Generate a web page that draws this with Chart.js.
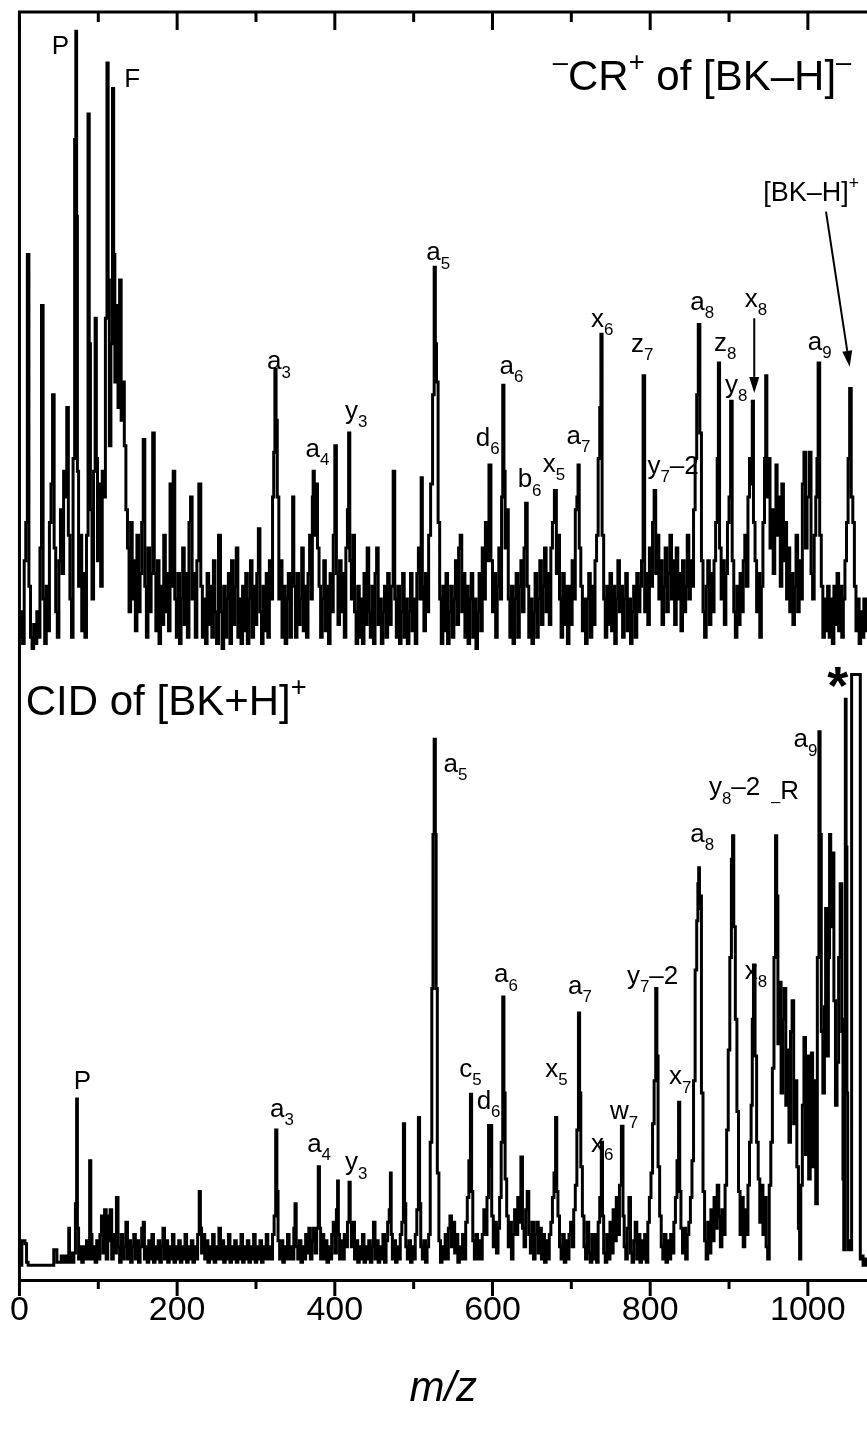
<!DOCTYPE html>
<html>
<head>
<meta charset="utf-8">
<script src="https://cdn.jsdelivr.net/npm/chart.js@4.4.0/dist/chart.umd.min.js"></script>
<style>
  html, body { margin: 0; background: #fff; }
</style>
</head>
<body>
<canvas id="spec" width="867" height="1446"></canvas>
<script>
// ---- data: [m/z, relative intensity %] ----
const topSpectrum = [
  [0,2],[3,6],[5,1],[7,14],[9,20],[11,62],[13,10],[15,2],[17,0],[19,4],[21,1],[23,6],[25,2],[27,16],[29,54],[31,8],[33,1],[35,10],[37,3],[39,20],
  [41,26],[43,40],[45,16],[47,6],[49,2],[51,14],[53,22],[55,12],[57,28],[59,24],[61,38],[63,18],[65,8],[67,2],[69,30],[71,80],[72,97],[73,68],[74,28],[76,10],
  [78,18],[80,3],[82,12],[84,2],[86,18],[88,84],[89,48],[91,22],[93,8],[95,28],[97,52],[98,30],[100,14],[102,26],[104,10],[106,28],[108,24],[110,52],[112,92],[113,58],
  [115,32],[117,48],[119,88],[120,62],[122,42],[124,54],[126,38],[128,58],[130,36],[132,42],[134,32],[136,22],[138,16],[140,6],[142,20],[144,8],[146,14],[148,3],[150,18],[152,6],
  [154,12],[156,20],[158,33],[160,10],[162,2],[164,16],[166,6],[168,12],[170,34],[172,12],[174,3],[176,14],[178,1],[180,10],[182,4],[184,18],[186,6],[188,12],[190,3],[192,26],
  [194,10],[196,28],[198,8],[200,2],[202,12],[204,1],[206,8],[208,16],[210,4],[212,12],[214,2],[216,20],[218,24],[220,8],[222,12],[224,2],[226,14],[229,26],[231,10],[233,2],
  [235,8],[237,1],[239,12],[241,4],[243,10],[245,2],[247,14],[249,6],[251,1],[254,18],[256,6],[258,0],[260,10],[262,2],[264,8],[266,12],[268,1],[270,14],[272,4],[274,10],
  [276,16],[278,2],[280,8],[282,1],[284,10],[286,3],[288,12],[290,1],[292,8],[294,14],[296,2],[298,10],[300,4],[302,12],[304,19],[306,6],[308,1],[310,10],[312,3],[314,12],
  [316,2],[318,14],[320,8],[322,24],[323,31],[325,44],[326,36],[328,24],[330,8],[332,14],[334,2],[336,10],[338,1],[340,8],[342,12],[344,2],[346,10],[347,24],[349,10],[351,2],
  [353,12],[355,4],[357,8],[359,16],[361,3],[363,10],[365,2],[367,12],[369,18],[371,8],[372,24],[373,28],[375,18],[377,26],[379,16],[381,10],[383,2],[385,8],[387,14],[389,3],
  [391,10],[393,1],[395,12],[397,6],[399,18],[401,32],[403,12],[405,4],[407,14],[409,6],[411,12],[413,2],[415,16],[417,22],[418,34],[420,14],[422,8],[424,18],[426,6],[428,1],
  [430,10],[432,2],[434,8],[436,1],[438,12],[440,4],[442,16],[444,6],[446,2],[448,10],[450,1],[452,12],[454,16],[456,4],[458,8],[460,1],[462,6],[464,10],[466,2],[468,12],
  [470,4],[473,10],[475,28],[477,8],[479,2],[481,10],[483,1],[485,6],[487,12],[489,2],[491,8],[493,1],[495,6],[497,12],[499,3],[501,8],[503,1],[505,12],[507,16],[509,8],
  [510,27],[512,10],[514,3],[516,12],[518,6],[520,18],[523,26],[525,40],[527,60],[528,48],[530,42],[532,20],[534,8],[536,1],[538,10],[540,3],[542,12],[544,1],[546,6],[548,10],
  [550,2],[552,8],[554,14],[556,4],[558,16],[560,18],[562,6],[564,12],[566,2],[568,10],[570,1],[572,8],[574,12],[576,2],[578,8],[580,0],[582,6],[584,12],[586,3],[588,16],
  [590,8],[592,20],[594,14],[597,29],[599,14],[601,6],[603,12],[605,2],[607,10],[609,16],[611,8],[612,24],[614,41.5],[615,28],[617,16],[619,22],[621,8],[623,2],[625,10],[627,1],
  [629,8],[631,12],[633,2],[635,10],[637,14],[639,6],[641,16],[643,23],[645,10],[647,2],[649,8],[651,1],[653,6],[655,12],[657,2],[659,8],[661,14],[663,4],[665,10],[667,16],
  [669,6],[671,12],[673,4],[675,16],[677,20],[680,25],[682,12],[684,18],[686,8],[688,2],[690,12],[692,4],[694,10],[696,1],[698,10],[700,4],[702,14],[704,8],[706,22],[708,24],
  [709,29],[711,16],[713,10],[715,3],[717,8],[719,1],[721,8],[723,12],[725,2],[727,10],[729,4],[731,14],[733,18],[735,30],[737,38],[738,49.5],[740,18],[742,8],[744,2],[746,10],
  [748,4],[750,12],[752,3],[754,10],[756,1],[758,8],[760,14],[762,6],[764,10],[766,2],[768,8],[770,12],[772,3],[774,8],[776,1],[778,6],[780,10],[782,2],[784,12],[786,6],
  [788,10],[790,14],[792,43],[794,6],[796,12],[798,4],[800,16],[802,10],[804,20],[806,25],[808,12],[810,18],[812,8],[814,14],[816,4],[818,10],[820,16],[822,6],[824,12],[826,18],
  [828,8],[830,14],[832,4],[834,16],[836,8],[838,12],[840,3],[842,14],[844,6],[846,10],[848,18],[850,8],[852,14],[854,10],[856,22],[858,30],[860,40],[862,51],[864,34],[866,14],
  [868,6],[870,2],[872,10],[874,14],[876,4],[878,12],[880,6],[882,14],[884,20],[886,30],[887,45],[889,16],[891,8],[893,14],[895,4],[897,12],[899,20],[901,24],[903,39],[905,14],
  [907,6],[909,2],[911,10],[913,4],[915,12],[917,6],[919,14],[921,18],[923,10],[925,24],[927,30],[929,26],[930,39],[932,20],[934,14],[936,6],[938,12],[940,2],[942,10],[944,20],
  [946,30],[947,43],[949,24],[951,30],[953,16],[955,22],[957,12],[959,18],[960,29],[962,18],[964,24],[966,10],[968,26],[970,14],[972,20],[974,8],[976,16],[978,6],[980,12],[982,4],
  [984,10],[986,18],[988,6],[990,14],[992,8],[994,26],[996,31],[998,16],[1000,24],[1003,31],[1005,12],[1007,8],[1009,18],[1011,24],[1012,30],[1014,45],[1016,18],[1018,10],[1020,2],[1022,8],
  [1024,3],[1026,10],[1028,2],[1030,8],[1032,1],[1034,10],[1036,4],[1038,12],[1040,3],[1042,10],[1044,2],[1046,8],[1048,14],[1050,20],[1052,30],[1054,41],[1056,24],[1058,20],[1060,10],[1062,3],
  [1064,8],[1066,1],[1068,6],[1070,2],[1072,8],[1075,3]
];

const bottomSpectrum = [
  [0,0],[2,0],[4,4],[6,4],[8,3.5],[10,0.5],[12,0],[20,0],[30,0],[43,0],[44,2.5],[47,2.5],[48,0.5],[52,0.5],[54,1.5],[56,0.5],[58,1.5],[60,0.5],[62,1.5],[63,6],
  [64,0.5],[66,2],[68,0.5],[70,2],[72,10],[73,27],[74,6],[76,1],[78,3],[80,0.5],[82,3],[84,1],[86,4],[88,1],[90,17],[91,5],[93,1],[95,3],[97,0.5],[99,4],
  [101,1],[103,5],[105,8],[107,2],[109,9],[111,1],[113,8],[114,4],[116,9],[118,1],[120,5],[122,2],[124,11],[126,3],[128,0.5],[130,5],[132,1],[134,3],[136,7],[138,1],
  [140,4],[142,0.5],[144,3],[146,5],[148,1],[150,4],[152,0.5],[154,3],[156,6],[158,7],[159,1],[161,3],[163,0.5],[165,4],[167,1],[169,5],[171,0.5],[173,3],[175,1],[177,4],
  [179,0.5],[181,3],[183,6],[185,1],[187,4],[189,0.5],[191,3],[193,1],[195,5],[197,0.5],[199,3],[201,1],[203,4],[205,0.5],[207,3],[209,1],[211,5],[213,0.5],[215,3],[217,1],
  [219,4],[221,0.5],[223,3],[225,1],[227,5],[229,12],[230,6],[232,2],[234,5],[236,1],[238,4],[240,0.5],[242,3],[244,1],[246,5],[248,0.5],[250,3],[252,1],[254,6],[256,1],
  [258,4],[260,0.5],[262,3],[264,1],[266,5],[268,0.5],[270,3],[272,1],[274,4],[276,0.5],[278,3],[280,1],[282,5],[284,0.5],[286,3],[288,1],[290,4],[292,0.5],[294,3],[296,1],
  [298,5],[300,0.5],[302,3],[304,1],[306,4],[308,0.5],[310,3],[312,1],[314,5],[316,1],[318,3],[320,1],[322,5],[324,8],[326,22],[327,12],[329,4],[331,1],[333,4],[335,0.5],
  [337,3],[339,1],[341,5],[343,1],[345,3],[347,1],[349,6],[350,10],[352,3],[354,1],[356,4],[358,0.5],[360,3],[362,1],[364,5],[366,2],[368,6],[370,1],[372,4],[374,6],
  [376,2],[378,6],[380,16],[381,6],[383,1],[385,5],[387,1],[389,4],[391,0.5],[393,3],[395,1],[397,5],[399,7],[401,2],[403,9],[404,13.7],[405,5],[407,1],[409,4],[411,1],
  [413,5],[415,3],[417,7],[419,13.5],[420,7],[422,3],[424,7],[426,1],[428,4],[430,0.5],[432,3],[434,1],[436,5],[438,0.5],[440,3],[442,1],[444,4],[446,0.5],[448,3],[450,7],
  [452,1],[454,4],[456,0.5],[458,3],[460,1],[462,5],[464,0.5],[466,4],[468,7],[470,9],[471,15],[472,5],[474,1],[476,4],[478,0.5],[480,3],[482,1],[484,5],[486,7],[488,23],
  [489,10],[491,3],[493,1],[495,4],[497,0.5],[499,3],[501,1],[503,5],[505,9],[507,24],[508,10],[510,3],[512,1],[514,4],[516,0.5],[518,3],[520,5],[522,20],[524,45],[525,70],
  [527,85.5],[528,70],[529,45],[531,15],[533,4],[535,0.5],[537,3],[539,1],[541,5],[543,1],[545,6],[547,8],[549,3],[551,7],[553,2],[555,5],[557,0.5],[559,3],[561,1],[563,5],
  [565,1],[567,7],[569,11],[571,17],[573,27.8],[574,12],[576,4],[578,1],[580,5],[582,1],[584,4],[586,1],[588,5],[590,9],[592,5],[594,11],[596,22.7],[597,16],[598,22.7],[600,8],
  [602,3],[604,7],[606,2],[608,6],[610,11],[612,20],[614,43.6],[615,28],[617,14],[619,8],[621,3],[623,7],[625,1],[627,5],[629,9],[631,5],[633,11],[635,7],[637,17.6],[639,6],
  [641,3],[643,9],[645,12],[647,5],[649,2],[651,7],[653,1],[655,5],[657,7],[659,2],[661,6],[663,1],[665,5],[667,0.5],[669,4],[671,1],[673,5],[675,7],[677,11],[679,15],
  [681,24],[682,12],[684,8],[686,3],[688,1],[690,5],[692,0.5],[694,4],[696,1],[698,5],[700,7],[702,3],[704,9],[706,13],[708,22],[710,41],[711,28],[713,16],[715,8],[717,3],
  [719,1],[721,7],[723,2],[725,0.5],[727,5],[729,1],[731,5],[733,0.5],[735,7],[737,11],[739,20],[740,8],[742,2],[744,0.5],[746,5],[748,1],[750,7],[752,2],[754,9],[756,4],
  [758,11],[760,5],[762,13],[765,22.6],[766,8],[768,3],[770,1],[772,6],[774,11],[776,2],[778,0.5],[780,4],[782,7],[784,1],[786,5],[788,0.5],[790,4],[792,1],[794,5],[796,0.5],
  [798,7],[800,11],[802,15],[804,23],[806,30],[808,45],[809,34],[811,16],[813,8],[815,3],[817,1],[819,5],[821,0.5],[823,4],[825,1],[827,5],[829,2],[831,7],[833,11],[835,17],
  [837,26.5],[838,12],[840,6],[842,2],[844,6],[846,1],[848,5],[850,7],[852,11],[854,17],[856,30],[858,48],[860,56],[861,62],[862,64.6],[863,58],[864,60],[866,28],[868,12],[870,4],
  [872,1],[874,7],[876,2],[878,9],[880,4],[882,11],[884,6],[886,13],[888,8],[890,3],[892,9],[894,5],[896,13],[898,22],[900,35],[902,50],[904,66],[905,69.8],[907,55],[909,40],
  [911,25],[913,12],[915,5],[917,11],[919,3],[921,9],[923,5],[925,13],[927,20],[929,26],[930,40],[932,48.8],[934,34],[936,20],[938,14],[940,7],[942,13],[944,5],[946,11],[948,3],
  [950,1],[952,13],[954,20],[956,32],[958,50],[960,69.8],[961,60],[963,36],[965,46],[967,28],[969,40],[971,45],[973,26],[975,35],[977,20],[979,38],[981,43],[983,23],[985,30],[987,16],
  [989,6],[990,1],[992,13],[994,26],[996,37],[998,18],[1000,34],[1002,14],[1004,28],[1005,34.5],[1007,16],[1009,30],[1011,10],[1013,50],[1015,86.7],[1016,70],[1018,38],[1020,28],[1022,42],[1023,58],
  [1025,34],[1027,50],[1028,70],[1030,55],[1032,67],[1034,43],[1036,26],[1038,33],[1040,50],[1042,62],[1044,38],[1045,14],[1046,2.5],[1047,40],[1048,92],[1049,68],[1050,28],[1051,2.5],[1052,4],[1054,2.5],
  [1055,2.5],[1056,96],[1066,96],[1067,1],[1069,1.5],[1071,0],[1073,1],[1075,0]
];

const tickValues = [0, 100, 200, 300, 400, 500, 600, 700, 800, 900, 1000];

// peak labels: [m/z centre, intensity at baseline, letter, subscript, suffix]
const topLabels = [
  [52, 93.4, 'P'], [143, 88.2, 'F'],
  [329, 44.0, 'a', '3'], [378, 30.3, 'a', '4'], [427, 36.2, 'y', '3'], [531, 61.1, 'a', '5'],
  [594, 32.0, 'd', '6'], [624, 43.3, 'a', '6'], [647, 25.5, 'b', '6'], [678, 27.9, 'x', '5'],
  [709, 32.3, 'a', '7'], [739, 50.6, 'x', '6'], [790, 46.7, 'z', '7'], [829, 27.6, 'y', '7', '–2'],
  [866, 53.3, 'a', '8'], [895, 46.9, 'z', '8'], [909, 40.3, 'y', '8'], [934, 53.8, 'x', '8'],
  [1015, 47.0, 'a', '9']
];
const bottomLabels = [
  [80, 28.6, 'P'], [333, 24.1, 'a', '3'], [380, 18.4, 'a', '4'], [427, 15.4, 'y', '3'],
  [553, 80.2, 'a', '5'], [572, 30.6, 'c', '5'], [595, 25.4, 'd', '6'], [617, 46.0, 'a', '6'],
  [681, 30.6, 'x', '5'], [711, 44.1, 'a', '7'], [739, 18.4, 'x', '6'], [767, 23.7, 'w', '7'],
  [803, 45.7, 'y', '7', '–2'], [838, 29.4, 'x', '7'], [866, 68.8, 'a', '8'], [907, 76.4, 'y', '8', '–2'],
  [971, 75.8, '', '–', 'R'], [934, 46.5, 'x', '8'], [997, 84.2, 'a', '9']
];
// arrows: [m/z from, int from, m/z to, int to]
const topArrows = [[932, 52.0, 932, 40.3], [1023, 68.7, 1053, 44.4]];

const FONT = '"Liberation Sans", Arial, Helvetica, sans-serif';

function drawRich(ctx, segs, x, y, fs, align) {
  const parts = segs.map(([t, k]) => {
    const size = k === 'n' ? fs : fs * 0.65;
    ctx.font = size + 'px ' + FONT;
    return { t, k, size, w: ctx.measureText(t).width };
  });
  const total = parts.reduce((s, p) => s + p.w, 0);
  let cx = align === 'center' ? x - total / 2 : align === 'right' ? x - total : x;
  ctx.textAlign = 'left';
  ctx.textBaseline = 'alphabetic';
  parts.forEach(p => {
    ctx.font = p.size + 'px ' + FONT;
    const dy = p.k === 'sub' ? fs * 0.32 : p.k === 'sup' ? -fs * 0.45 : 0;
    ctx.fillText(p.t, cx, y + dy);
    cx += p.w;
  });
}

function labelSegs(l) {
  const segs = [];
  if (l[2]) segs.push([l[2], 'n']);
  if (l[3]) segs.push([l[3], 'sub']);
  if (l[4]) segs.push([l[4], 'n']);
  return segs;
}

function arrow(ctx, x1, y1, x2, y2) {
  const ang = Math.atan2(y2 - y1, x2 - x1);
  const len = 16, half = 5;
  const bx = x2 - Math.cos(ang) * len, by = y2 - Math.sin(ang) * len;
  ctx.lineWidth = 2;
  ctx.beginPath(); ctx.moveTo(x1, y1); ctx.lineTo(bx, by); ctx.stroke();
  ctx.beginPath();
  ctx.moveTo(x2, y2);
  ctx.lineTo(bx + Math.sin(ang) * half, by - Math.cos(ang) * half);
  ctx.lineTo(bx - Math.sin(ang) * half, by + Math.cos(ang) * half);
  ctx.closePath(); ctx.fill();
}

const overlay = {
  id: 'overlay',
  afterDraw(chart) {
    const { ctx, chartArea: a, scales } = chart;
    const xs = scales.x, yt = scales.yTop, yb = scales.yBot;
    ctx.save();
    ctx.strokeStyle = '#000';
    ctx.fillStyle = '#000';
    ctx.lineWidth = 3;
    ctx.beginPath();
    ctx.moveTo(a.left, a.bottom); ctx.lineTo(a.left, a.top); ctx.lineTo(a.right, a.top);
    ctx.stroke();

    tickValues.forEach(v => {
      const px = xs.getPixelForValue(v);
      const major = v % 200 === 0;
      ctx.beginPath();
      ctx.moveTo(px, a.top); ctx.lineTo(px, a.top + (major ? 18 : 10));
      ctx.moveTo(px, a.bottom); ctx.lineTo(px, a.bottom + (major ? 16 : 9));
      ctx.stroke();
    });

    topLabels.forEach(l => drawRich(ctx, labelSegs(l), xs.getPixelForValue(l[0]), yt.getPixelForValue(l[1]), 26, 'center'));
    bottomLabels.forEach(l => drawRich(ctx, labelSegs(l), xs.getPixelForValue(l[0]), yb.getPixelForValue(l[1]), 26, 'center'));

    drawRich(ctx, [['[BK–H]', 'n'], ['+', 'sup']], xs.getPixelForValue(1004), yt.getPixelForValue(70.4), 27, 'center');
    topArrows.forEach(([m1, i1, m2, i2]) =>
      arrow(ctx, xs.getPixelForValue(m1), yt.getPixelForValue(i1), xs.getPixelForValue(m2), yt.getPixelForValue(i2)));

    // panel titles
    drawRich(ctx, [['–', 'sup'], ['CR', 'n'], ['+', 'sup'], [' of [BK–H]', 'n'], ['–', 'sup']],
      xs.getPixelForValue(1055), yt.getPixelForValue(87.8), 42, 'right');
    drawRich(ctx, [['CID of [BK+H]', 'n'], ['+', 'sup']],
      xs.getPixelForValue(8), yb.getPixelForValue(89.4), 42, 'left');

    ctx.font = 'bold 54px ' + FONT;
    ctx.textAlign = 'center';
    ctx.fillText('*', xs.getPixelForValue(1038), yb.getPixelForValue(91.2));
    ctx.restore();
  }
};

const lineStyle = {
  borderColor: '#000', borderWidth: 3, pointRadius: 0, stepped: 'middle',
  fill: false, borderJoinStyle: 'miter'
};

new Chart(document.getElementById('spec'), {
  type: 'line',
  data: {
    datasets: [
      { ...lineStyle, yAxisID: 'yTop', data: topSpectrum.map(([x, y]) => ({ x, y })) },
      { ...lineStyle, yAxisID: 'yBot', data: bottomSpectrum.map(([x, y]) => ({ x, y })) }
    ]
  },
  options: {
    responsive: false,
    animation: false,
    events: [],
    layout: { padding: { left: 18, top: 12, right: 0, bottom: 0 } },
    plugins: { legend: { display: false }, tooltip: { enabled: false } },
    scales: {
      x: {
        type: 'linear', position: 'bottom', min: 0, max: 1075,
        border: { display: true, color: '#000', width: 3 },
        grid: { display: false, drawTicks: false },
        ticks: {
          stepSize: 100, includeBounds: false, autoSkip: false, maxRotation: 0, padding: 10,
          color: '#000', font: { family: FONT, size: 34 },
          callback: v => (v % 200 === 0 ? String(v) : '')
        },
        title: {
          display: true, text: 'm/z', color: '#000',
          font: { family: FONT, size: 42, style: 'italic' }, padding: { top: 0, bottom: 31 }
        },
        afterFit: s => { s.height = 166; }
      },
      yTop: {
        type: 'linear', position: 'left', stack: 'spec', stackWeight: 638, weight: 2,
        min: 0, max: 100,
        ticks: { display: false }, grid: { display: false }, border: { display: false },
        afterFit: s => { s.width = 0; }
      },
      yBot: {
        type: 'linear', position: 'left', stack: 'spec', stackWeight: 630, weight: 1,
        min: -2.4, max: 100,
        ticks: { display: false }, grid: { display: false }, border: { display: false },
        afterFit: s => { s.width = 0; }
      }
    }
  },
  plugins: [overlay]
});
</script>
</body>
</html>
